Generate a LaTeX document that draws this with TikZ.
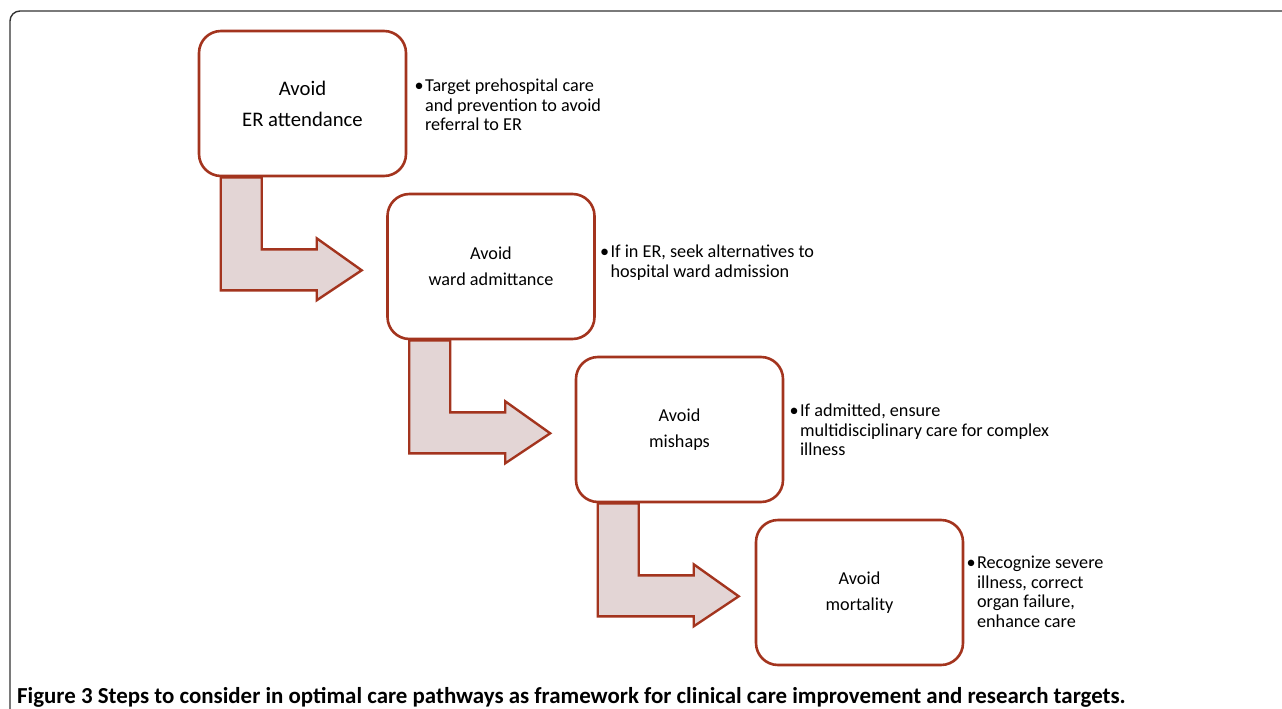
\documentclass[tikz,border=0pt]{standalone}
\usepackage{fontspec}
\setmainfont{Carlito}
\usetikzlibrary{positioning,calc,backgrounds}
\definecolor{boxred}{HTML}{A3341E}
\definecolor{arrowfill}{HTML}{E3D5D5}
\definecolor{framegray}{HTML}{333333}

\begin{document}
\begin{tikzpicture}[x=1pt, y=-1pt, font=\fontsize{18.2}{26}\selectfont]
  \tikzstyle{stepbox}=[draw=boxred, line width=2.6pt, fill=white, rounded corners=22pt, minimum width=207pt, minimum height=145pt, align=center, inner sep=0pt]
  \tikzstyle{note}=[anchor=base west, inner sep=0pt, font=\fontsize{18.2}{19.6}\selectfont]
  \tikzstyle{turnarrow}=[draw=boxred, line width=2.4pt, fill=arrowfill, line join=miter]
  \useasboundingbox (0,0) rectangle (1282,709);
  % outer frame, cut by the page
  \begin{scope}
    \clip (0,0) rectangle (1282,709);
    \draw[framegray, line width=1.4pt, rounded corners=10pt] (10,730) -- (10,11) -- (1300,11);
  \end{scope}
  % steps
  \node[stepbox, font=\fontsize{20.7}{31}\selectfont] (b1) at (302.5,103.5) {Avoid\\ER attendance};
  \node[stepbox] (b2) at ($(b1)+(188.5,163)$) {Avoid\\ward admittance};
  \node[stepbox] (b3) at ($(b2)+(188.5,163)$) {Avoid\\mishaps};
  \node[stepbox] (b4) at ($(b3)+(180,163)$) {Avoid\\mortality};
  % notes
  \node[note] (n1) at ($(b1.north east)+(7,62)$) {\textbullet\hspace{1.5pt}\begin{tabular}[t]{@{}l@{}}Target prehospital care\\and prevention to avoid\\referral to ER\end{tabular}};
  \node[note] (n2) at ($(b2.north east)+(4,65)$) {\textbullet\hspace{1.5pt}\begin{tabular}[t]{@{}l@{}}If in ER, seek alternatives to\\hospital ward admission\end{tabular}};
  \node[note] (n3) at ($(b3.north east)+(5,61)$) {\textbullet\hspace{1.5pt}\begin{tabular}[t]{@{}l@{}}If admitted, ensure\\multidisciplinary care for complex\\illness\end{tabular}};
  \node[note] (n4) at ($(b4.north east)+(2,50)$) {\textbullet\hspace{1.5pt}\begin{tabular}[t]{@{}l@{}}Recognize severe\\illness, correct\\organ failure,\\enhance care\end{tabular}};
  % turning arrows between steps
  \begin{scope}[on background layer]
    \foreach \from in {b1,b2,b3}
      \draw[turnarrow] ($(\from.south west)+(23,0)$) -- ++(41,0) -- ++(0,72) -- ++(55,0) -- ++(0,-11) -- ++(45,32) -- ++(-45,30) -- ++(0,-10) -- ++(-96,0) -- cycle;
  \end{scope}
  % caption
  \node[anchor=base west, inner sep=0pt, font=\bfseries\fontsize{22.9}{25}\selectfont] (cap) at (17,703) {Figure 3 Steps to consider in optimal care pathways as framework for clinical care improvement and research targets.};
\end{tikzpicture}
\end{document}
